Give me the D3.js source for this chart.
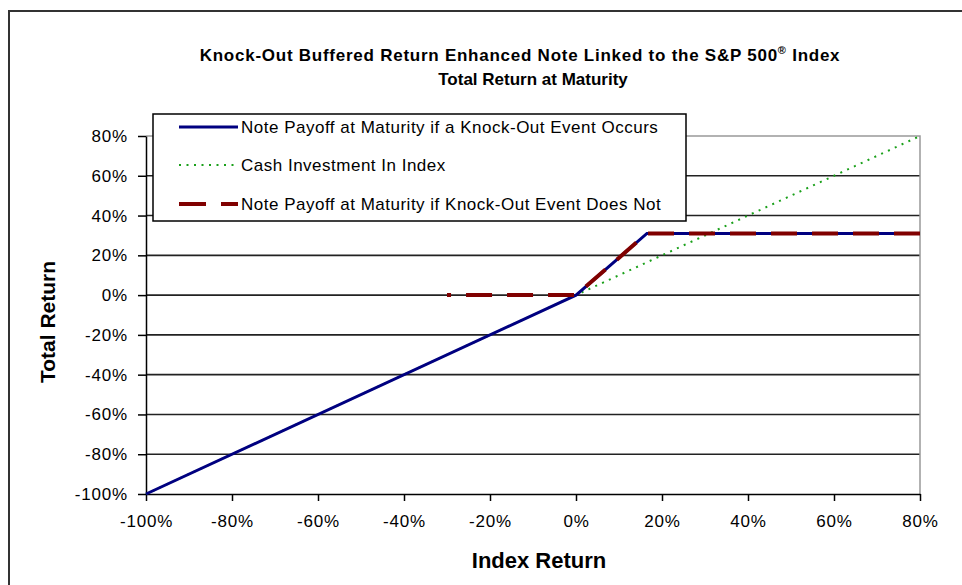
<!DOCTYPE html>
<html lang="en">
<head>
<meta charset="utf-8">
<title>Knock-Out Buffered Return Enhanced Note</title>
<script src="https://d3js.org/d3.v7.min.js"></script>
<style>
  body { margin: 0; background: #fff; }
  text { font-family: Arial, "Liberation Sans", sans-serif; fill: #000; }
  .tick-label { font-size: 17px; letter-spacing: 0.8px; }
  .legend-text { font-size: 17px; letter-spacing: 0.5px; }
</style>
</head>
<body>
<script>
// ---- data (percent) ----
var xTicks = [-100, -80, -60, -40, -20, 0, 20, 40, 60, 80];
var yTicks = [-100, -80, -60, -40, -20, 0, 20, 40, 60, 80];

// note payoff if a knock-out event occurs
var koX = [-100, 0, 16.5, 80];
var koY = [-100, 0, 31, 31];
// cash investment in index
var cashX = [-100, 80];
var cashY = [-100, 80];
// note payoff if knock-out event does not occur (drawn from the right end)
var noKoX = [80, 16.5, 0, -30];
var noKoY = [31, 31, 0, 0];

var legendLabels = [
  "Note Payoff at Maturity if a Knock-Out Event Occurs",
  "Cash Investment In Index",
  "Note Payoff at Maturity if Knock-Out Event Does Not"
];

var width = 962, height = 585;
var svg = d3.select("body").append("svg")
  .attr("width", width)
  .attr("height", height);

// outer frame
svg.append("rect")
  .attr("x", 9).attr("y", 11)
  .attr("width", 1000).attr("height", 1000)
  .attr("fill", "none")
  .attr("stroke", "#333")
  .attr("stroke-width", 2);

var x = d3.scaleLinear().domain([-100, 80]).range([146, 920]);
var y = d3.scaleLinear().domain([-100, 80]).range([494, 136]);

// gridlines
svg.append("g")
  .selectAll("line")
  .data(yTicks.filter(d => d > -100 && d < 80))
  .enter().append("line")
  .attr("x1", x(-100)).attr("x2", x(80))
  .attr("y1", d => y(d)).attr("y2", d => y(d))
  .attr("stroke", "#222")
  .attr("stroke-width", 1.6);

// plot border (top / right)
svg.append("path")
  .attr("d", "M" + x(-100) + "," + y(80) + "H" + x(80) + "V" + y(-100))
  .attr("fill", "none")
  .attr("stroke", "#999")
  .attr("stroke-width", 1.5);

// axes
var fmt = d => d + "%";
var yAxis = svg.append("g")
  .attr("transform", "translate(" + x(-100) + ",0)")
  .call(d3.axisLeft(y).tickValues(yTicks).tickFormat(fmt).tickSize(8).tickSizeOuter(0).tickPadding(10));
var xAxis = svg.append("g")
  .attr("transform", "translate(0," + y(-100) + ")")
  .call(d3.axisBottom(x).tickValues(xTicks).tickFormat(fmt).tickSize(7).tickSizeOuter(0).tickPadding(14));

[yAxis, xAxis].forEach(function(a) {
  a.select(".domain").attr("stroke", "#000").attr("stroke-width", 1.5);
  a.selectAll(".tick line").attr("stroke", "#000").attr("stroke-width", 1.5);
  a.selectAll(".tick text")
    .attr("class", "tick-label")
    .attr("font-family", null)
    .attr("font-size", null);
});

// series
var line = d3.line().x(d => x(d[0])).y(d => y(d[1]));
var zip = (a, b) => a.map((v, i) => [v, b[i]]);

svg.append("path")
  .datum(zip(cashX, cashY))
  .attr("d", line)
  .attr("fill", "none")
  .attr("stroke", "#1aa01a")
  .attr("stroke-width", 2)
  .attr("stroke-dasharray", "2,5.5");

svg.append("path")
  .datum(zip(koX, koY))
  .attr("d", line)
  .attr("fill", "none")
  .attr("stroke", "#000080")
  .attr("stroke-width", 3);

svg.append("path")
  .datum(zip(noKoX, noKoY))
  .attr("d", line)
  .attr("fill", "none")
  .attr("stroke", "#800000")
  .attr("stroke-width", 4)
  .attr("stroke-dasharray", "26,15");

// legend
var lg = svg.append("g");
lg.append("rect")
  .attr("x", 153).attr("y", 114)
  .attr("width", 533).attr("height", 107)
  .attr("fill", "#fff")
  .attr("stroke", "#000")
  .attr("stroke-width", 1.5);

var legendStyles = [
  { stroke: "#000080", w: 3, dash: null },
  { stroke: "#1aa01a", w: 2, dash: "2,5.5" },
  { stroke: "#800000", w: 4, dash: "27,15" }
];
var legendRowY = [127, 165, 204];

legendLabels.forEach(function(label, i) {
  lg.append("line")
    .attr("x1", 179).attr("x2", 238)
    .attr("y1", legendRowY[i]).attr("y2", legendRowY[i])
    .attr("stroke", legendStyles[i].stroke)
    .attr("stroke-width", legendStyles[i].w)
    .attr("stroke-dasharray", legendStyles[i].dash);
  lg.append("text")
    .attr("class", "legend-text")
    .attr("x", 241)
    .attr("y", legendRowY[i] + 6)
    .text(label);
});

// titles
var title = svg.append("text")
  .attr("x", 520).attr("y", 61)
  .attr("text-anchor", "middle")
  .attr("font-size", 17)
  .attr("letter-spacing", "0.75px")
  .attr("font-weight", "bold");
title.append("tspan").text("Knock-Out Buffered Return Enhanced Note Linked to the S&P 500");
title.append("tspan").attr("font-size", 11).attr("dy", -7).text("\u00AE");
title.append("tspan").attr("dy", 7).text(" Index");

svg.append("text")
  .attr("x", 533).attr("y", 85)
  .attr("text-anchor", "middle")
  .attr("font-size", 17)
  .attr("font-weight", "bold")
  .text("Total Return at Maturity");

svg.append("text")
  .attr("transform", "translate(55,322) rotate(-90)")
  .attr("text-anchor", "middle")
  .attr("font-size", 21)
  .attr("font-weight", "bold")
  .text("Total Return");

svg.append("text")
  .attr("x", 539).attr("y", 568)
  .attr("text-anchor", "middle")
  .attr("font-size", 22)
  .attr("font-weight", "bold")
  .text("Index Return");
</script>
</body>
</html>
